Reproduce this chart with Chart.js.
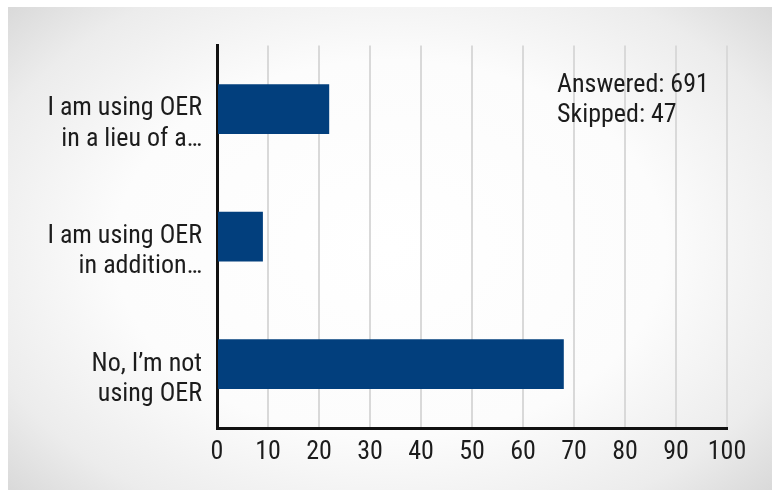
<!DOCTYPE html>
<html>
<head>
<meta charset="utf-8">
<script src="https://cdn.jsdelivr.net/npm/chart.js@4.4.1/dist/chart.umd.min.js"></script>
<style>
  html, body { margin: 0; padding: 0; background: #ffffff; }
  #wrap { position: relative; width: 772px; height: 490px; overflow: hidden; }
  #bg {
    position: absolute; left: 8px; top: 7px; right: 0; bottom: 0;
    background: radial-gradient(ellipse 72% 78% at 50% 50%, #ffffff 0%, #fcfcfc 50%, #ececec 78%, #d3d3d3 100%);
  }
  canvas { position: absolute; left: 0; top: 0; }
</style>
</head>
<body>
<div id="wrap">
  <div id="bg"></div>
  <canvas id="chart" width="772" height="490"></canvas>
</div>
<script>
// Survey answers (multi-line category labels) and their percentages
const categories = [
  ["I am using OER", "in a lieu of a…"],
  ["I am using OER", "in addition…"],
  ["No, I’m not", "using OER"]
];
const percentValues = [22, 9, 68];
const xTickValues = [0, 10, 20, 30, 40, 50, 60, 70, 80, 90, 100];
const summaryLines = ["Answered: 691", "Skipped: 47"];

const FONT_FAMILY = "'Roboto Condensed', 'Open Sans', sans-serif";
const TEXT_COLOR = "#1c1c1c";

// Response counts drawn in the upper right of the plot
const summaryPlugin = {
  id: "summaryText",
  afterDraw(chart) {
    const { ctx, chartArea } = chart;
    ctx.save();
    ctx.font = "26px " + FONT_FAMILY;
    ctx.fillStyle = TEXT_COLOR;
    ctx.textAlign = "left";
    ctx.textBaseline = "alphabetic";
    summaryLines.forEach((line, i) => {
      ctx.fillText(line, chartArea.left + 340, chartArea.top + 47 + i * 30);
    });
    ctx.restore();
  }
};

new Chart(document.getElementById("chart"), {
  type: "bar",
  data: {
    labels: categories,
    datasets: [{
      data: percentValues,
      backgroundColor: "#023f7d",
      borderWidth: 0,
      categoryPercentage: 1.0,
      barPercentage: 0.39
    }]
  },
  options: {
    indexAxis: "y",
    responsive: false,
    animation: false,
    events: [],
    layout: { padding: { top: 42, right: 45, left: 0, bottom: 0 } },
    plugins: {
      legend: { display: false },
      tooltip: { enabled: false }
    },
    scales: {
      x: {
        min: 0,
        max: 100,
        afterBuildTicks(scale) {
          scale.ticks = xTickValues.map(v => ({ value: v }));
        },
        afterFit(scale) { scale.height = 62; },
        grid: {
          display: true,
          color: "#d9d9d9",
          lineWidth: 2,
          drawTicks: false
        },
        border: { display: true, color: "#111111", width: 3 },
        ticks: {
          padding: 9,
          color: TEXT_COLOR,
          font: { family: FONT_FAMILY, size: 26 },
          maxRotation: 0,
          autoSkip: false
        }
      },
      y: {
        afterFit(scale) { scale.width = 217; },
        grid: { display: true, color: "rgba(0,0,0,0)", drawTicks: false },
        border: { display: true, color: "#111111", width: 3 },
        ticks: {
          padding: 15,
          labelOffset: 15,
          color: TEXT_COLOR,
          font: { family: FONT_FAMILY, size: 26, lineHeight: 1.17 },
          autoSkip: false
        }
      }
    }
  },
  plugins: [summaryPlugin]
});
</script>
</body>
</html>
